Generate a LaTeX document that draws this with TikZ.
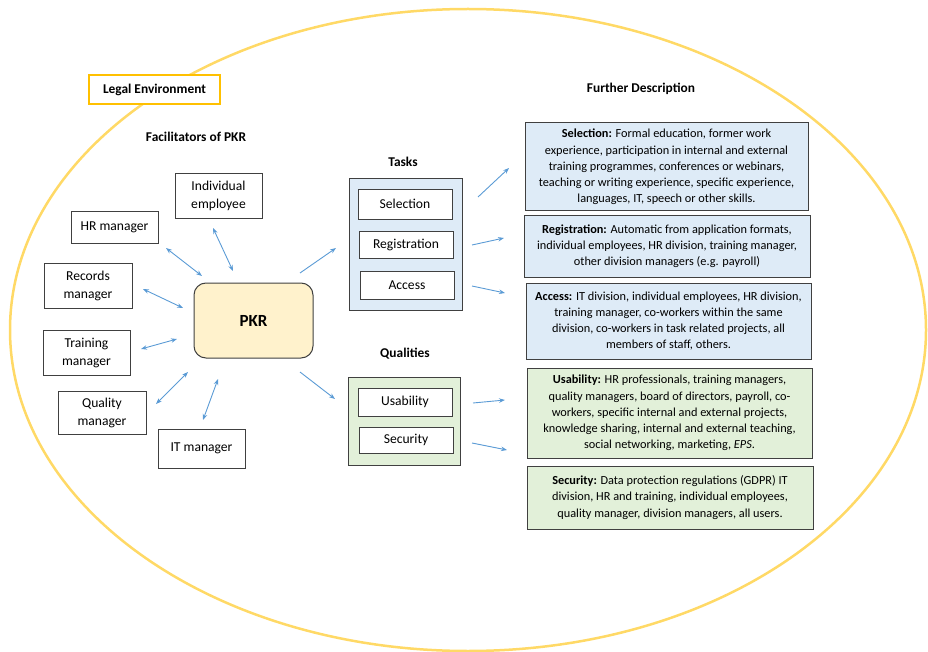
\documentclass[tikz,border=0pt]{standalone}
\usepackage{fontspec}
\setmainfont{Carlito}
\usetikzlibrary{arrows.meta}
\definecolor{ellc}{HTML}{FFD966}
\definecolor{legalc}{HTML}{FFC000}
\definecolor{arrc}{HTML}{5B9BD5}
\definecolor{bluef}{HTML}{DEEBF7}
\definecolor{greenf}{HTML}{E2F0D9}
\definecolor{pkrf}{HTML}{FFF2CC}
\definecolor{edgec}{HTML}{404040}
\begin{document}
\begin{tikzpicture}[x=1pt,y=-1pt,
  fbox/.style={draw=edgec, line width=0.9pt, fill=white, align=center, inner sep=0pt, font=\fontsize{13.6}{18}\selectfont},
  panel/.style={draw=edgec, line width=1pt, inner sep=0pt},
  desc/.style={draw=edgec, line width=1pt, align=center, inner sep=0pt, font=\fontsize{12.3}{16.2}\selectfont},
  head/.style={font=\bfseries\fontsize{13.4}{15}\selectfont},
  biarr/.style={arrc, line width=0.9pt, {Stealth[length=6pt,width=4.5pt]}-{Stealth[length=6pt,width=4.5pt]}},
  onearr/.style={arrc, line width=0.9pt, -{Stealth[length=6pt,width=4.5pt]}}
]
\useasboundingbox (0,0) rectangle (928,652);
\draw[ellc, line width=2.5pt] (468,330) ellipse [x radius=458pt, y radius=321pt];

\node[draw=legalc, line width=2.5pt, fill=white, minimum width=131pt, minimum height=29pt, inner sep=0pt, head] (legal) at (154.5,89.5) {Legal Environment};
\node[head] (further) at (641,89) {Further Description};
\node[head] (facil) at (196,137) {Facilitators of PKR};
\node[head] (taskst) at (403,162) {Tasks};
\node[head] (qualt) at (405,354) {Qualities};

% facilitators
\node[fbox, minimum width=87pt, minimum height=45pt] (indiv) at (218.5,195.5) {Individual\\employee};
\node[fbox, minimum width=87pt, minimum height=32pt] (hr) at (114.5,227) {HR manager};
\node[fbox, minimum width=88pt, minimum height=45pt] (rec) at (88,285.5) {Records\\manager};
\node[fbox, minimum width=87pt, minimum height=45pt] (train) at (86.5,352.5) {Training\\manager};
\node[fbox, minimum width=88pt, minimum height=43pt] (qual) at (102,412.5) {Quality\\manager};
\node[fbox, minimum width=87pt, minimum height=39pt] (it) at (201.5,448.5) {IT manager};
\node[draw=edgec, line width=1pt, fill=pkrf, rounded corners=12pt, minimum width=119pt, minimum height=75pt, inner sep=0pt, font=\bfseries\fontsize{17}{20}\selectfont] (pkr) at (253.5,320.5) {PKR};

% tasks panel
\node[panel, fill=bluef, minimum width=113pt, minimum height=131pt] (tasks) at (405.5,244.5) {};
\node[fbox, minimum width=94pt, minimum height=30pt] (sel) at (405,204) {Selection};
\node[fbox, minimum width=94pt, minimum height=27pt] (reg) at (406,244.5) {Registration};
\node[fbox, minimum width=94pt, minimum height=28pt] (acc) at (407,285) {Access};
% qualities panel
\node[panel, fill=greenf, minimum width=112pt, minimum height=88pt] (quals) at (404,421) {};
\node[fbox, minimum width=94pt, minimum height=28pt] (usa) at (405,402) {Usability};
\node[fbox, minimum width=94pt, minimum height=26pt] (sec) at (406,440) {Security};

% descriptions
\node[desc, fill=bluef, minimum width=283pt, minimum height=88pt] (dsel) at (666.5,167) {\textbf{Selection:} Formal education, former work\\experience, participation in internal and external\\training programmes, conferences or webinars,\\teaching or writing experience, specific experience,\\languages, IT, speech or other skills.};
\node[desc, fill=bluef, minimum width=286pt, minimum height=61pt] (dreg) at (667,246.5) {\textbf{Registration:} Automatic from application formats,\\individual employees, HR division, training manager,\\other division managers (e.g. payroll)};
\node[desc, fill=bluef, minimum width=285pt, minimum height=76pt] (dacc) at (668.5,321) {\textbf{Access:} IT division, individual employees, HR division,\\training manager, co-workers within the same\\division, co-workers in task related projects, all\\members of staff, others.};
\node[desc, fill=greenf, minimum width=285pt, minimum height=90pt] (dusa) at (669.5,413) {\textbf{Usability:} HR professionals, training managers,\\quality managers, board of directors, payroll, co-\\workers, specific internal and external projects,\\knowledge sharing, internal and external teaching,\\social networking, marketing, \textit{EPS}.};
\node[desc, fill=greenf, minimum width=286pt, minimum height=63pt] (dsec) at (670,497.5) {\textbf{Security:} Data protection regulations (GDPR) IT\\division, HR and training, individual employees,\\quality manager, division managers, all users.};

% arrow end points
\coordinate (hrA) at (166,248);   \coordinate (hrB) at (202,276);
\coordinate (inA) at (213,228);   \coordinate (inB) at (233,271);
\coordinate (reA) at (143,289);   \coordinate (reB) at (183,308);
\coordinate (trA) at (141,349);   \coordinate (trB) at (177,339);
\coordinate (quA) at (156,404);   \coordinate (quB) at (188,372);
\coordinate (itA) at (203,420);   \coordinate (itB) at (218,379);
\coordinate (pkT) at (300,273);   \coordinate (tkI) at (336,248);
\coordinate (pkQ) at (300,372);   \coordinate (qlI) at (335,399);
\coordinate (s1) at (478,197);    \coordinate (s2) at (509,168);
\coordinate (r1) at (472,245);    \coordinate (r2) at (504,238);
\coordinate (a1) at (472,286);    \coordinate (a2) at (505,293);
\coordinate (u1) at (473,403);    \coordinate (u2) at (505,400);
\coordinate (c1) at (472,443);    \coordinate (c2) at (507,450);

\draw[biarr] (hrA) -- (hrB);
\draw[biarr] (inA) -- (inB);
\draw[biarr] (reA) -- (reB);
\draw[biarr] (trA) -- (trB);
\draw[biarr] (quA) -- (quB);
\draw[biarr] (itA) -- (itB);
\draw[onearr] (pkT) -- (tkI);
\draw[onearr] (pkQ) -- (qlI);
\draw[onearr] (s1) -- (s2);
\draw[onearr] (r1) -- (r2);
\draw[onearr] (a1) -- (a2);
\draw[onearr] (u1) -- (u2);
\draw[onearr] (c1) -- (c2);
\end{tikzpicture}
\end{document}
